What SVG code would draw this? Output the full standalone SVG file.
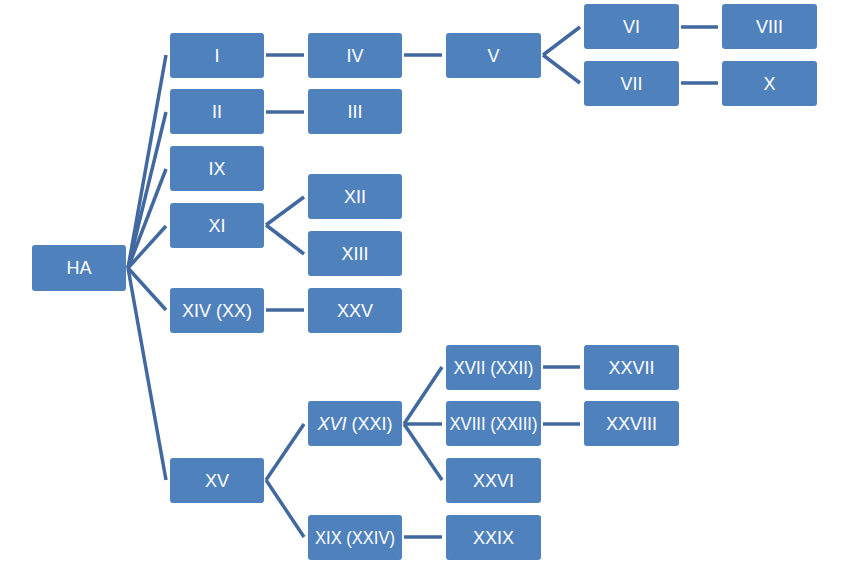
<svg xmlns="http://www.w3.org/2000/svg" width="842" height="568" viewBox="0 0 842 568">
<style>
.n rect{fill:#4f81bd;}
.n text{fill:#fff;font-family:"Liberation Sans",Arial,sans-serif;font-size:18px;text-anchor:middle;dominant-baseline:central;}
#edges line{stroke:#41699f;stroke-width:3.5;stroke-linecap:butt;}
</style>
<rect width="842" height="568" fill="#fff"/>
<g id="edges">
<line x1="128" y1="268" x2="166" y2="55"/>
<line x1="128" y1="268" x2="166" y2="112"/>
<line x1="128" y1="268" x2="166" y2="169"/>
<line x1="128" y1="268" x2="166" y2="226"/>
<line x1="128" y1="268" x2="166" y2="310"/>
<line x1="128" y1="268" x2="166" y2="480"/>
<line x1="266" y1="55" x2="304" y2="55"/>
<line x1="404" y1="55" x2="442" y2="55"/>
<line x1="543" y1="55" x2="580" y2="27"/>
<line x1="543" y1="55" x2="580" y2="83"/>
<line x1="681" y1="27" x2="718" y2="27"/>
<line x1="681" y1="83" x2="718" y2="83"/>
<line x1="266" y1="112" x2="304" y2="112"/>
<line x1="266" y1="225" x2="304" y2="197"/>
<line x1="266" y1="225" x2="304" y2="254"/>
<line x1="266" y1="310" x2="304" y2="310"/>
<line x1="266" y1="480" x2="304" y2="424"/>
<line x1="266" y1="480" x2="304" y2="537"/>
<line x1="404" y1="424" x2="442" y2="367"/>
<line x1="404" y1="424" x2="442" y2="424"/>
<line x1="404" y1="424" x2="442" y2="480"/>
<line x1="404" y1="537" x2="442" y2="537"/>
<line x1="543" y1="367" x2="580" y2="367"/>
<line x1="543" y1="424" x2="580" y2="424"/>
</g>
<g id="HA" class="n"><rect x="32" y="245" width="94" height="46" rx="3"/><text x="79" y="268">HA</text></g>
<g id="I" class="n"><rect x="170" y="33" width="94" height="45" rx="3"/><text x="217" y="55.5">I</text></g>
<g id="II" class="n"><rect x="170" y="89" width="94" height="45" rx="3"/><text x="217" y="111.5">II</text></g>
<g id="IX" class="n"><rect x="170" y="146" width="94" height="45" rx="3"/><text x="217" y="168.5">IX</text></g>
<g id="XI" class="n"><rect x="170" y="203" width="94" height="45" rx="3"/><text x="217" y="225.5">XI</text></g>
<g id="XIV" class="n"><rect x="170" y="288" width="94" height="45" rx="3"/><text x="217" y="310.5">XIV (XX)</text></g>
<g id="XV" class="n"><rect x="170" y="458" width="94" height="45" rx="3"/><text x="217" y="480.5">XV</text></g>
<g id="IV" class="n"><rect x="308" y="33" width="94" height="45" rx="3"/><text x="355" y="55.5">IV</text></g>
<g id="III" class="n"><rect x="308" y="89" width="94" height="45" rx="3"/><text x="355" y="111.5">III</text></g>
<g id="XII" class="n"><rect x="308" y="174" width="94" height="45" rx="3"/><text x="355" y="196.5">XII</text></g>
<g id="XIII" class="n"><rect x="308" y="231" width="94" height="45" rx="3"/><text x="355" y="253.5">XIII</text></g>
<g id="XXV" class="n"><rect x="308" y="288" width="94" height="45" rx="3"/><text x="355" y="310.5">XXV</text></g>
<g id="XVI" class="n"><rect x="308" y="401" width="94" height="45" rx="3"/><text x="355" y="423.5"><tspan font-style="italic">XVI</tspan> (XXI)</text></g>
<g id="XIX" class="n"><rect x="308" y="515" width="94" height="45" rx="3"/><text x="355" y="537.5" textLength="80" lengthAdjust="spacingAndGlyphs">XIX (XXIV)</text></g>
<g id="V" class="n"><rect x="446" y="33" width="95" height="45" rx="3"/><text x="493.5" y="55.5">V</text></g>
<g id="XVII" class="n"><rect x="446" y="345" width="95" height="45" rx="3"/><text x="493.5" y="367.5" textLength="80" lengthAdjust="spacingAndGlyphs">XVII (XXII)</text></g>
<g id="XVIII" class="n"><rect x="446" y="401" width="95" height="45" rx="3"/><text x="493.5" y="423.5" textLength="88" lengthAdjust="spacingAndGlyphs">XVIII (XXIII)</text></g>
<g id="XXVI" class="n"><rect x="446" y="458" width="95" height="45" rx="3"/><text x="493.5" y="480.5">XXVI</text></g>
<g id="XXIX" class="n"><rect x="446" y="515" width="95" height="45" rx="3"/><text x="493.5" y="537.5">XXIX</text></g>
<g id="VI" class="n"><rect x="584" y="4" width="95" height="45" rx="3"/><text x="631.5" y="26.5">VI</text></g>
<g id="VII" class="n"><rect x="584" y="61" width="95" height="45" rx="3"/><text x="631.5" y="83.5">VII</text></g>
<g id="XXVII" class="n"><rect x="584" y="345" width="95" height="45" rx="3"/><text x="631.5" y="367.5">XXVII</text></g>
<g id="XXVIII" class="n"><rect x="584" y="401" width="95" height="45" rx="3"/><text x="631.5" y="423.5">XXVIII</text></g>
<g id="VIII" class="n"><rect x="722" y="4" width="95" height="45" rx="3"/><text x="769.5" y="26.5">VIII</text></g>
<g id="X" class="n"><rect x="722" y="61" width="95" height="45" rx="3"/><text x="769.5" y="83.5">X</text></g>
</svg>
